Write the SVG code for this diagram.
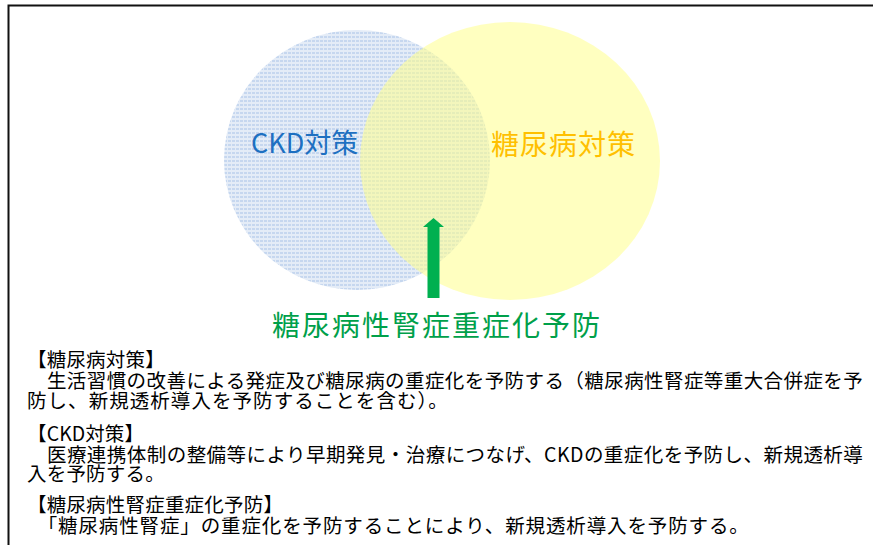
<svg xmlns="http://www.w3.org/2000/svg" width="873" height="545" viewBox="0 0 873 545">
  <defs>
    <pattern id="dots" x="0" y="0" width="4" height="4" patternUnits="userSpaceOnUse">
      <rect width="4" height="4" fill="#E4ECF7"/>
      <rect x="0" y="0" width="3" height="2" fill="#C6D7EF"/>
    </pattern>
    <style>
      .jp { font-family: "Noto Sans CJK JP", "Noto Sans", sans-serif; }
      .body { font-size: 19.5px; fill: #000; letter-spacing: 0.2px; }
      .lat { letter-spacing: 0; }
    </style>
  </defs>
  <rect width="873" height="545" fill="#fff"/>
  <g id="frame" stroke="#111" stroke-width="2" fill="none">
    <path d="M8.5 545 V5.5 H873"/>
  </g>
  <g id="ckd">
    <ellipse cx="357" cy="160" rx="133" ry="130" fill="url(#dots)"/>
  </g>
  <g id="diabetes">
    <ellipse cx="510" cy="161" rx="150" ry="139" fill="#FFFF8C" fill-opacity="0.55"/>
  </g>
  <g id="labels" class="jp">
    <text x="251" y="153" font-size="27" fill="#1E70C1">CKD対策</text>
    <text x="491" y="155" font-size="28" fill="#FFC000" letter-spacing="1">糖尿病対策</text>
  </g>
  <g id="connectors">
    <path d="M427.5 298 V227 H423 L433.5 218 L444 227 H439.5 V298 Z" fill="#00B050"/>
  </g>
  <g id="prevention" class="jp">
    <text x="272" y="336" font-size="28" fill="#00A04A" letter-spacing="2">糖尿病性腎症重症化予防</text>
  </g>
  <g id="description" class="jp body">
    <text x="27" y="367">【糖尿病対策】</text>
    <text x="27" y="388" textLength="836" lengthAdjust="spacing">　生活習慣の改善による発症及び糖尿病の重症化を予防する（糖尿病性腎症等重大合併症を予</text>
    <text x="27" y="408" textLength="421" lengthAdjust="spacing">防し、新規透析導入を予防することを含む）。</text>
    <text x="27" y="441">【<tspan class="lat">CKD</tspan>対策】</text>
    <text x="27" y="462" textLength="836" lengthAdjust="spacing">　医療連携体制の整備等により早期発見・治療につなげ、CKDの重症化を予防し、新規透析導</text>
    <text x="27" y="481">入を予防する。</text>
    <text x="27" y="512">【糖尿病性腎症重症化予防】</text>
    <text x="27" y="533" textLength="722" lengthAdjust="spacing">　「糖尿病性腎症」の重症化を予防することにより、新規透析導入を予防する。</text>
  </g>
</svg>
